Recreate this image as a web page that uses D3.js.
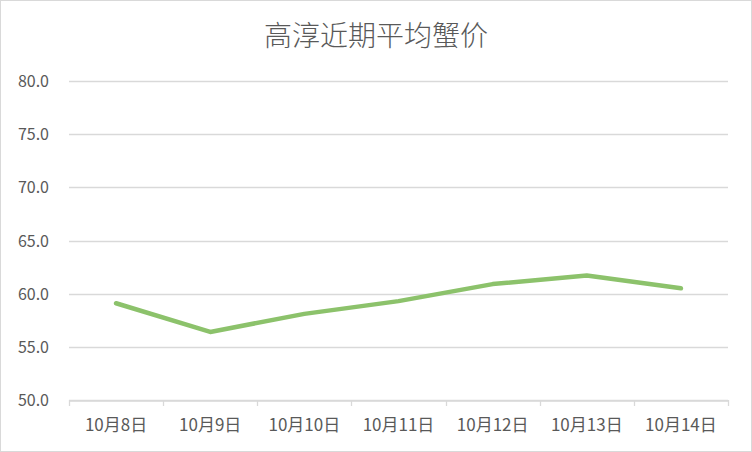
<!DOCTYPE html>
<html>
<head>
<meta charset="utf-8">
<script src="https://cdn.jsdelivr.net/npm/d3@7"></script>
<style>
  body { margin: 0; background: #fff; }
  svg { display: block; font-family: "Noto Sans CJK SC", "Noto Sans", sans-serif; }
</style>
</head>
<body>
<div id="chart"></div>
<script>
var dates = ["10月8日", "10月9日", "10月10日", "10月11日", "10月12日", "10月13日", "10月14日"];
var prices = [59.1, 56.4, 58.1, 59.3, 60.9, 61.7, 60.5];
var yTicks = [50, 55, 60, 65, 70, 75, 80];

var width = 752, height = 452;
var plotLeft = 69, plotRight = 728, plotTop = 81, plotBottom = 400;

var svg = d3.select("#chart").append("svg")
  .attr("width", width)
  .attr("height", height);

svg.append("rect")
  .attr("x", 0.5).attr("y", 0.5)
  .attr("width", width - 1).attr("height", height - 1)
  .attr("fill", "#fff")
  .attr("stroke", "#d9d9d9");

svg.append("text")
  .attr("x", 376)
  .attr("y", 46)
  .attr("text-anchor", "middle")
  .attr("fill", "#595959")
  .style("font-size", "28px")
  .style("font-weight", 300)
  .text("高淳近期平均蟹价");

var x = d3.scaleBand().domain(dates).range([plotLeft, plotRight]);
var y = d3.scaleLinear().domain([50, 80]).range([plotBottom, plotTop]);

// grid lines
svg.selectAll(".grid")
  .data(yTicks)
  .enter().append("line")
  .attr("x1", plotLeft).attr("x2", plotRight)
  .attr("y1", function(d) { return Math.round(y(d)) + 0.5; })
  .attr("y2", function(d) { return Math.round(y(d)) + 0.5; })
  .attr("stroke", "#d9d9d9")
  .attr("stroke-width", 1.3);

// y labels
svg.selectAll(".ylab")
  .data(yTicks)
  .enter().append("text")
  .attr("x", 49)
  .attr("y", function(d) { return y(d) + 6; })
  .attr("text-anchor", "end")
  .attr("fill", "#595959")
  .style("font-size", "16px")
  .text(function(d) { return d.toFixed(1); });

// x axis with tick marks between categories
var xAxis = d3.axisBottom(x).tickSize(0).tickPadding(0).tickFormat("");
var gx = svg.append("g").attr("transform", "translate(0," + (Math.round(plotBottom) + 0.5) + ")").call(xAxis);
gx.select(".domain").attr("stroke", "#d9d9d9").attr("stroke-width", 1.3);

var bounds = dates.map(function(d) { return x(d); }).concat([plotRight]);
svg.selectAll(".xtick")
  .data(bounds)
  .enter().append("line")
  .attr("x1", function(d) { return Math.round(d) + 0.5; })
  .attr("x2", function(d) { return Math.round(d) + 0.5; })
  .attr("y1", plotBottom)
  .attr("y2", plotBottom + 6)
  .attr("stroke", "#d9d9d9")
  .attr("stroke-width", 1.3);

svg.selectAll(".xlab")
  .data(dates)
  .enter().append("text")
  .attr("x", function(d) { return x(d) + x.bandwidth() / 2; })
  .attr("y", 431)
  .attr("text-anchor", "middle")
  .attr("fill", "#595959")
  .style("font-size", "17px")
  .text(function(d) { return d; });

var line = d3.line()
  .x(function(d, i) { return x(dates[i]) + x.bandwidth() / 2; })
  .y(function(d) { return y(d); });

svg.append("path")
  .datum(prices)
  .attr("d", line)
  .attr("fill", "none")
  .attr("stroke", "#8cc26b")
  .attr("stroke-width", 4.5)
  .attr("stroke-linejoin", "round")
  .attr("stroke-linecap", "round");
</script>
</body>
</html>
